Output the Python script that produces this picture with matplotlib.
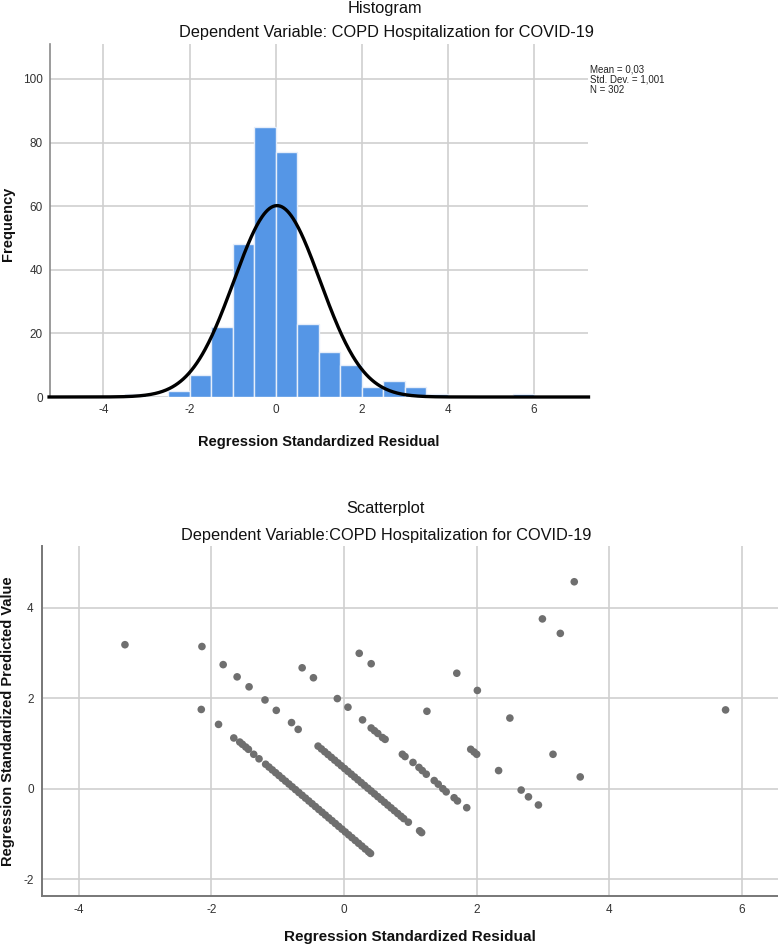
import numpy as np
import matplotlib
matplotlib.use("Agg")
import matplotlib.pyplot as plt

plt.rcParams['axes.unicode_minus'] = False

# ---------------- data ----------------
bin_edges_left = [-3.5, -3.0, -2.5, -2.0, -1.5, -1.0, -0.5, 0.0, 0.5, 1.0, 1.5, 2.0, 2.5, 3.0, 3.5, 4.0, 4.5, 5.0, 5.5]
bin_counts     = [1,    0,    2,    7,    22,   48,   85,   77,  23,  14,  10,  3,   5,   3,   1,   0,   0,   0,   1]
bin_width = 0.5
hist_mean = 0.03
hist_sd = 1.001
hist_n = 302

hist_xticks = [-4, -2, 0, 2, 4, 6]
hist_yticks = [0, 20, 40, 60, 80, 100]
sc_xticks = [-4, -2, 0, 2, 4, 6]
sc_yticks = [-2, 0, 2, 4]

# scatter: residual (x) and predicted (y)
resid_sparse = [-3.30, -2.14, -2.15, -1.82, -1.61, -1.43, -1.19, -1.02, -0.79, -0.69,
                -1.89, -1.66, -1.57, -1.53, -1.48, -1.44, -1.36, -1.28,
                -0.63, -0.46, 0.23, 0.41, -0.10, 0.06, 0.28, 0.41, 0.46, 0.51, 0.58, 0.62,
                0.88, 0.92, 1.04, 1.13, 1.18, 1.24, 1.36, 1.42, 1.49, 1.54, 1.66, 1.71, 1.85,
                1.25, 1.70, 2.01, 2.50, 2.99, 3.26, 3.47, 1.91, 1.96, 2.00, 3.15, 2.33, 3.56,
                2.67, 2.78, 2.93, 5.75, 0.90, 0.97, 1.14, 1.17]
pred_sparse  = [3.18, 3.14, 1.75, 2.74, 2.47, 2.25, 1.96, 1.73, 1.46, 1.31,
                1.42, 1.12, 1.03, 0.98, 0.92, 0.87, 0.76, 0.66,
                2.67, 2.45, 2.99, 2.76, 1.99, 1.80, 1.52, 1.34, 1.28, 1.22, 1.13, 1.09,
                0.76, 0.71, 0.58, 0.47, 0.40, 0.32, 0.18, 0.10, 0.00, -0.07, -0.20, -0.27, -0.42,
                1.71, 2.55, 2.17, 1.56, 3.75, 3.43, 4.57, 0.87, 0.81, 0.76, 0.76, 0.40, 0.26,
                -0.03, -0.18, -0.36, 1.74, -0.66, -0.74, -0.93, -0.97]

resid_band1 = [-1.18, -1.13, -1.08, -1.03, -0.98, -0.93, -0.88, -0.83, -0.78, -0.73, -0.68,
               -0.63, -0.58, -0.53, -0.48, -0.43, -0.38, -0.33, -0.28, -0.23, -0.18, -0.13,
               -0.08, -0.03, 0.02, 0.07, 0.12, 0.17, 0.22, 0.27, 0.32, 0.37, 0.40]
pred_band1  = [0.540, 0.478, 0.415, 0.353, 0.291, 0.228, 0.166, 0.104, 0.041, -0.021, -0.084,
               -0.146, -0.208, -0.271, -0.333, -0.395, -0.458, -0.520, -0.582, -0.645, -0.707, -0.769,
               -0.832, -0.894, -0.956, -1.019, -1.081, -1.143, -1.206, -1.268, -1.331, -1.393, -1.430]

resid_band2 = [-0.39, -0.34, -0.29, -0.24, -0.19, -0.14, -0.09, -0.04, 0.01, 0.06, 0.11, 0.16, 0.21,
               0.26, 0.31, 0.36, 0.41, 0.46, 0.51, 0.56, 0.61, 0.66, 0.71, 0.76, 0.81, 0.86]
pred_band2  = [0.940, 0.878, 0.816, 0.754, 0.692, 0.630, 0.568, 0.506, 0.444, 0.382, 0.320, 0.258, 0.196,
               0.134, 0.072, 0.010, -0.052, -0.114, -0.176, -0.238, -0.300, -0.362, -0.424, -0.486, -0.548, -0.610]

# ---------------- style ----------------
fam = ['Liberation Sans', 'DejaVu Sans']

W, H = 778, 947
fig = plt.figure(figsize=(W / 100, H / 100), dpi=100)
fig.patch.set_facecolor('white')

grid_c = '#cfcfcf'
tick_c = '#333333'
spine_c = '#8a8a8a'

# ---------------- histogram ----------------
ax1 = fig.add_axes([50 / W, 1 - 397 / H, (588 - 50) / W, (397 - 44) / H])
ax1.set_axisbelow(True)
ax1.bar(bin_edges_left, bin_counts, width=bin_width, align='edge',
        color='#5596e6', edgecolor='#e6eefa', linewidth=1.0, zorder=2)
xs = np.linspace(-5.3, 7.3, 600)
curve = hist_n * bin_width / (hist_sd * np.sqrt(2 * np.pi)) * np.exp(-0.5 * ((xs - hist_mean) / hist_sd) ** 2)
ax1.plot(xs, curve, color='black', linewidth=2.4, zorder=3, clip_on=False, solid_capstyle='butt')
ax1.set_xlim(-5.24, 7.25)
ax1.set_ylim(0, 111)
ax1.set_xticks(hist_xticks)
ax1.set_yticks(hist_yticks)
ax1.grid(True, color=grid_c, linewidth=1.2)
ax1.tick_params(length=0, labelsize=8.5, colors=tick_c, pad=5)
for lab in ax1.get_xticklabels() + ax1.get_yticklabels():
    lab.set_family(fam)
for s in ['top', 'right']:
    ax1.spines[s].set_visible(False)
ax1.spines['left'].set_color(spine_c)
ax1.spines['left'].set_linewidth(1.2)
ax1.spines['bottom'].set_visible(False)
ax1.set_xlabel('Regression Standardized Residual', family=fam, fontweight='bold', fontsize=10.5, labelpad=14, color='#111111')
ax1.set_ylabel('Frequency', family=fam, fontweight='bold', fontsize=10.5, color='#111111')
ax1.yaxis.set_label_coords((15 - 50) / 538, 0.49)

fig.text(590 / W, 1 - 64 / H, 'Mean = 0,03\nStd. Dev. = 1,001\nN = 302', family=fam,
         fontsize=7, va='top', ha='left', linespacing=1.05, color='#222222')

fig.text(385 / W, 1 - 8 / H, 'Histogram', family=fam, fontsize=11.8, ha='center', va='center', color='#111111')
fig.text(386 / W, 1 - 33 / H, 'Dependent Variable: COPD Hospitalization for COVID-19', family=fam,
         fontsize=11.8, ha='center', va='center', color='#111111')

# ---------------- scatter ----------------
ax2 = fig.add_axes([42 / W, 1 - 896 / H, (W - 42) / W, (896 - 546) / H])
ax2.set_axisbelow(True)
dot_c = '#6f6f6f'
for xv, yv in [(resid_sparse, pred_sparse), (resid_band1, pred_band1), (resid_band2, pred_band2)]:
    ax2.scatter(xv, yv, s=30, color=dot_c, edgecolors='none', zorder=3)
ax2.set_xlim(-4.55, 6.54)
ax2.set_ylim(-2.37, 5.36)
ax2.set_xticks(sc_xticks)
ax2.set_yticks(sc_yticks)
ax2.grid(True, color=grid_c, linewidth=1.2)
ax2.tick_params(length=0, labelsize=8.5, colors=tick_c, pad=6)
for lab in ax2.get_xticklabels() + ax2.get_yticklabels():
    lab.set_family(fam)
for s in ['top', 'right']:
    ax2.spines[s].set_visible(False)
for s in ['left', 'bottom']:
    ax2.spines[s].set_color('#777777')
    ax2.spines[s].set_linewidth(1.4)
ax2.set_xlabel('Regression Standardized Residual', family=fam, fontweight='bold', fontsize=11, labelpad=10, color='#111111')
ax2.set_ylabel('Regression Standardized Predicted Value', family=fam, fontweight='bold', fontsize=10.5, color='#111111')
ax2.yaxis.set_label_coords((15 - 42) / (W - 42), 0.5)

fig.text(385 / W, 1 - 508 / H, 'Scatterplot', family=fam, fontsize=11.8, ha='center', va='center', color='#111111')
fig.text(386 / W, 1 - 535 / H, 'Dependent Variable:COPD Hospitalization for COVID-19', family=fam,
         fontsize=11.8, ha='center', va='center', color='#111111')

fig.savefig('out.png', dpi=100, facecolor='white')
